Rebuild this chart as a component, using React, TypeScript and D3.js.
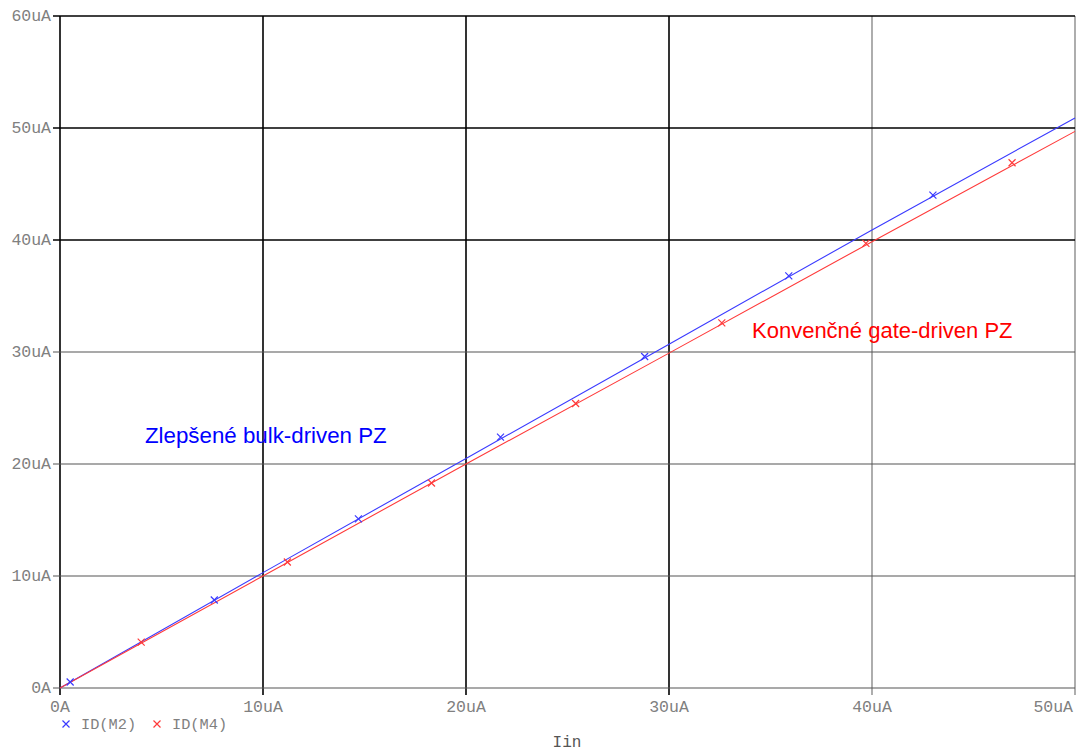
import React from "react";
import * as d3 from "d3";

// Iin samples (uA) and measured drain currents (uA)
const IIN = [0, 10, 20, 30, 40, 50];
const ID_M2 = [0, 10.3, 20.5, 30.7, 40.9, 50.9];
const ID_M4 = [0, 10.0, 20.0, 29.9, 39.85, 49.7];

// marker positions (uA)
const M2_MARK_X = [0.5, 7.6, 14.7, 21.7, 28.8, 35.9, 43.0];
const M2_MARK_Y = [0.54, 7.86, 15.1, 22.4, 29.6, 36.8, 44.0];
const M4_MARK_X = [4.0, 11.2, 18.3, 25.4, 32.6, 39.7, 46.9];
const M4_MARK_Y = [4.1, 11.25, 18.3, 25.4, 32.6, 39.7, 46.9];

const X_TICKS = [0, 10, 20, 30, 40, 50];
const Y_TICKS = [0, 10, 20, 30, 40, 50, 60];
const X_LABELS = ["0A", "10uA", "20uA", "30uA", "40uA", "50uA"];
const Y_LABELS = ["0A", "10uA", "20uA", "30uA", "40uA", "50uA", "60uA"];

// which grid lines are drawn dark (black) vs gray
const X_GRID_DARK = [true, true, true, true, false, false];
const Y_GRID_DARK = [false, false, false, false, true, true, true];

const W = 1080;
const H = 753;
const M = { left: 60, right: 5, top: 16, bottom: 65 };

const BLUE = "#3a3aff";
const RED = "#ff3a3a";
const MONO = "'Liberation Mono', 'DejaVu Sans Mono', monospace";
const SANS = "'Liberation Sans', Arial, sans-serif";

const App: React.FC = () => {
    const x = d3.scaleLinear().domain([0, 50]).range([M.left, W - M.right]);
    const y = d3.scaleLinear().domain([0, 60]).range([H - M.bottom, M.top]);

    const line = d3.line<number>()
        .x((_d, i) => x(IIN[i]))
        .y((d) => y(d));

    const cross = (cx: number, cy: number, color: string, key: string) => (
        <path
            key={key}
            d={`M${cx - 3.5},${cy - 3.5}L${cx + 3.5},${cy + 3.5}M${cx - 3.5},${cy + 3.5}L${cx + 3.5},${cy - 3.5}`}
            stroke={color}
            strokeWidth={1.2}
            fill="none"
        />
    );

    const y0 = y(0);

    return (
        <svg width={W} height={H} style={{ position: "absolute", left: 0, top: 0, background: "#fff" }}>
            {/* Vertical grid */}
            {X_TICKS.map((t, i) => (
                <line key={`vx${t}`} x1={x(t)} x2={x(t)} y1={y(60)} y2={y0 + 7}
                    stroke={X_GRID_DARK[i] ? "#000" : "#777"} strokeWidth={X_GRID_DARK[i] ? 1.6 : 1.2} />
            ))}
            {/* Horizontal grid */}
            {Y_TICKS.map((t, i) => (
                <line key={`hy${t}`} x1={M.left - 7} x2={x(50)} y1={y(t)} y2={y(t)}
                    stroke={Y_GRID_DARK[i] ? "#000" : "#555"} strokeWidth={Y_GRID_DARK[i] ? 1.6 : 1.1} />
            ))}

            {/* Y tick labels */}
            {Y_TICKS.map((t, i) => (
                <text key={`yl${t}`} x={M.left - 9} y={y(t) + 5} textAnchor="end"
                    fontFamily={MONO} fontSize={16.5} fill="#808080">{Y_LABELS[i]}</text>
            ))}
            {/* X tick labels */}
            {X_TICKS.map((t, i) => (
                <text key={`xl${t}`} x={i === X_TICKS.length - 1 ? x(t) - 2 : x(t)} y={y0 + 24}
                    textAnchor={i === X_TICKS.length - 1 ? "end" : "middle"}
                    fontFamily={MONO} fontSize={16.5} fill="#808080">{X_LABELS[i]}</text>
            ))}

            {/* Series */}
            <path d={line(ID_M2) ?? ""} fill="none" stroke={BLUE} strokeWidth={1.1} />
            <path d={line(ID_M4) ?? ""} fill="none" stroke={RED} strokeWidth={1.1} />
            {M2_MARK_X.map((v, i) => cross(x(v), y(M2_MARK_Y[i]), BLUE, `m2${i}`))}
            {M4_MARK_X.map((v, i) => cross(x(v), y(M4_MARK_Y[i]), RED, `m4${i}`))}

            {/* Annotations */}
            <text x={145} y={443} fontFamily={SANS} fontSize={22.3} fill="#0000ff">Zlepšené bulk-driven PZ</text>
            <text x={752} y={338} fontFamily={SANS} fontSize={22} fill="#ff0000">Konvenčné gate-driven PZ</text>

            {/* Legend */}
            {cross(66, 724, BLUE, "lg1")}
            <text x={81} y={729} fontFamily={MONO} fontSize={15.3} fill="#808080">ID(M2)</text>
            {cross(157, 724, RED, "lg2")}
            <text x={172} y={729} fontFamily={MONO} fontSize={15.3} fill="#808080">ID(M4)</text>

            {/* X axis title */}
            <text x={567} y={747} textAnchor="middle" fontFamily={MONO} fontSize={16} fill="#555">Iin</text>
        </svg>
    );
};

export default App;
